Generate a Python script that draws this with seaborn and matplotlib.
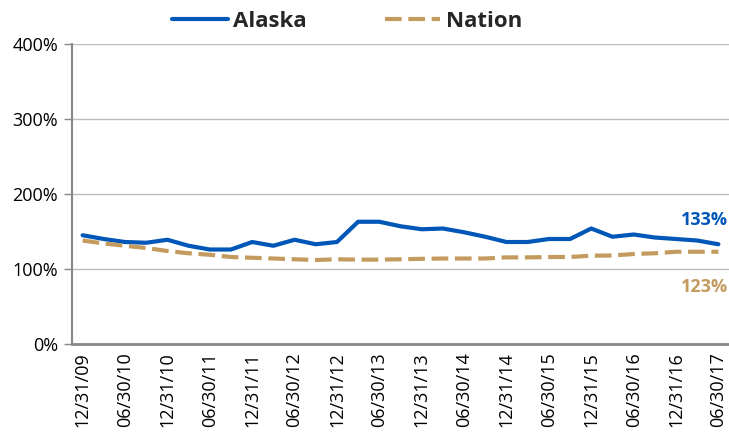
import matplotlib
matplotlib.use("Agg")
import matplotlib.pyplot as plt
import seaborn as sns
import numpy as np
import pandas as pd

quarters = ["12/31/09", "03/31/10", "06/30/10", "09/30/10", "12/31/10", "03/31/11",
            "06/30/11", "09/30/11", "12/31/11", "03/31/12", "06/30/12", "09/30/12",
            "12/31/12", "03/31/13", "06/30/13", "09/30/13", "12/31/13", "03/31/14",
            "06/30/14", "09/30/14", "12/31/14", "03/31/15", "06/30/15", "09/30/15",
            "12/31/15", "03/31/16", "06/30/16", "09/30/16", "12/31/16", "03/31/17",
            "06/30/17"]
alaska = [145, 140, 136, 135, 139, 131, 126, 126, 136, 131, 139, 133, 136, 163, 163, 157,
          153, 154, 149, 143, 136, 136, 140, 140, 154, 143, 146, 142, 140, 138, 133]
nation = [138, 134, 131, 128, 124, 121, 119, 116, 115, 114, 113, 112, 113, 112.5, 112.5, 113,
          113.6, 114, 114, 114, 115.5, 115.5, 116, 116, 117.8, 118, 120, 121, 123, 123, 123]
tick_labels = quarters[::2]
y_ticks = [0, 100, 200, 300, 400]

BLUE = "#0057B8"
TAN = "#C49B5E"

sns.set_theme(style="white")
plt.rcParams['font.family'] = ['Open Sans', 'DejaVu Sans']

df = pd.DataFrame({"pos": np.arange(len(quarters)), "Alaska": alaska, "Nation": nation})

fig = plt.figure(figsize=(7.29, 4.33), dpi=100)
ax = fig.add_axes([0.0988, 0.2055, 0.9012, 0.6929])

sns.lineplot(data=df, x="pos", y="Alaska", ax=ax, color=BLUE, linewidth=3.0, label="Alaska")
sns.lineplot(data=df, x="pos", y="Nation", ax=ax, color=TAN, linewidth=3.0, label="Nation")
ax.lines[1].set_dashes((4, 1.6))

ax.set_xlim(-0.5, len(quarters) - 0.5)
ax.set_ylim(0, 400)
ax.set_yticks(y_ticks)
ax.set_yticklabels([f"{v}%" for v in y_ticks], fontsize=13, color="#000000")
ax.set_xticks(np.arange(0, len(quarters), 2))
ax.set_xticklabels(tick_labels, rotation=90, fontsize=13, color="#000000", va="top")
ax.set_xlabel("")
ax.set_ylabel("")

ax.yaxis.grid(True, color="#BDBDBD", linewidth=1)
ax.xaxis.grid(False)
for s in ["top", "right"]:
    ax.spines[s].set_visible(False)
ax.spines["left"].set_color("#888888")
ax.spines["left"].set_linewidth(1.5)
ax.spines["bottom"].set_color("#888888")
ax.spines["bottom"].set_linewidth(2)
ax.tick_params(axis="y", which="major", length=6, color="#888888", width=1, pad=4, left=True)
ax.tick_params(axis="x", length=0, pad=6)

ax.text(0.998, 166, "133%", transform=ax.get_yaxis_transform(), ha="right", va="center",
        fontsize=13, fontweight="bold", color=BLUE)
ax.text(0.998, 76, "123%", transform=ax.get_yaxis_transform(), ha="right", va="center",
        fontsize=13, fontweight="bold", color=TAN)

leg = ax.legend(loc="center", bbox_to_anchor=(0.419, 1.075), ncol=2, frameon=False,
                prop={"weight": "bold", "size": 16}, handlelength=2.5, columnspacing=3.5,
                handletextpad=0.25)

fig.savefig("out.png", dpi=100)
